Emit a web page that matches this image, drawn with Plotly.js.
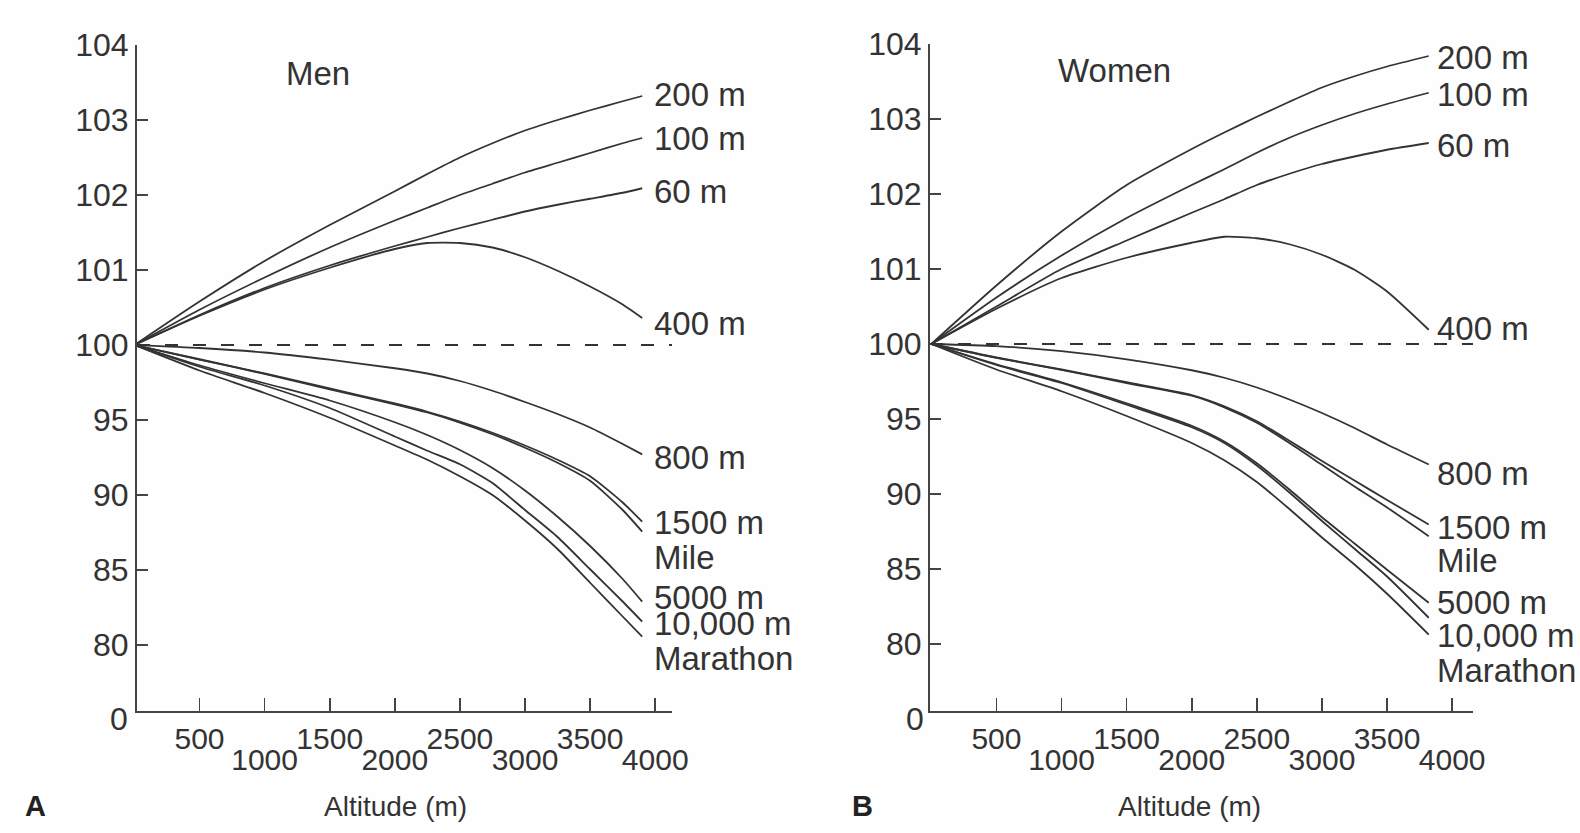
<!DOCTYPE html>
<html><head><meta charset="utf-8">
<script src="https://cdn.plot.ly/plotly-3.0.1.min.js"></script>
<style>html,body{margin:0;padding:0;background:#fefefe;} #chart{width:1580px;height:833px;}</style>
</head><body><div id="chart"></div>
<script>
// ---------- DATA ----------
const events = ['200 m', '100 m', '60 m', '400 m', '800 m', '1500 m', 'Mile', '5000 m', '10,000 m', 'Marathon'];
const xTickVals = [500, 1000, 1500, 2000, 2500, 3000, 3500, 4000];
const yTickVals = [104, 103, 102, 101, 100, 95, 90, 85, 80];

// Men (panel A): altitude (m) and performance (% of sea level)
const altitudeMen = [0, 500, 1000, 1500, 2000, 2250, 2500, 2750, 3000, 3250, 3500, 3750, 3900];
const men200m   = [100, 100.58, 101.12, 101.60, 102.05, 102.28, 102.50, 102.69, 102.86, 103.00, 103.13, 103.25, 103.32];
const men100m   = [100, 100.47, 100.90, 101.30, 101.66, 101.83, 102.00, 102.15, 102.30, 102.43, 102.56, 102.69, 102.76];
const men60m    = [100, 100.40, 100.76, 101.06, 101.32, 101.44, 101.56, 101.67, 101.78, 101.87, 101.95, 102.03, 102.09];
const men400m   = [100, 100.39, 100.74, 101.03, 101.28, 101.36, 101.36, 101.30, 101.17, 100.99, 100.78, 100.54, 100.36];
const men800m   = [100, 99.80, 99.50, 99.02, 98.45, 98.10, 97.60, 96.95, 96.20, 95.40, 94.50, 93.40, 92.71];
const men1500m  = [100, 99.05, 98.10, 97.10, 96.10, 95.55, 94.90, 94.15, 93.30, 92.35, 91.25, 89.50, 88.22];
const menMile   = [100, 99.03, 98.07, 97.05, 96.05, 95.50, 94.83, 94.05, 93.15, 92.15, 90.95, 89.00, 87.56];
const men5000m  = [100, 98.65, 97.45, 96.30, 94.85, 94.00, 93.00, 91.80, 90.30, 88.55, 86.60, 84.40, 82.89];
const men10000m = [100, 98.55, 97.30, 95.80, 93.90, 92.95, 92.05, 90.80, 89.00, 87.20, 85.05, 82.90, 81.56];
const menMarathon = [100, 98.30, 96.80, 95.15, 93.30, 92.35, 91.25, 90.00, 88.30, 86.40, 84.15, 81.90, 80.56];

// Women (panel B)
const altitudeWomen = [0, 500, 1000, 1500, 2000, 2250, 2500, 2750, 3000, 3250, 3500, 3820];
const women200m   = [100, 100.78, 101.50, 102.12, 102.60, 102.82, 103.03, 103.23, 103.42, 103.57, 103.70, 103.84];
const women100m   = [100, 100.62, 101.18, 101.68, 102.12, 102.33, 102.55, 102.75, 102.92, 103.07, 103.20, 103.35];
const women60m    = [100, 100.50, 101.00, 101.38, 101.75, 101.93, 102.12, 102.27, 102.40, 102.50, 102.59, 102.68];
const women400m   = [100, 100.47, 100.88, 101.15, 101.35, 101.43, 101.41, 101.33, 101.19, 100.99, 100.70, 100.19];
const women800m   = [100, 99.86, 99.52, 98.98, 98.25, 97.75, 97.10, 96.30, 95.40, 94.40, 93.30, 91.97];
const women1500m  = [100, 99.10, 98.30, 97.45, 96.60, 95.85, 94.85, 93.55, 92.20, 90.90, 89.60, 87.97];
const womenMile   = [100, 99.08, 98.27, 97.40, 96.55, 95.78, 94.75, 93.40, 91.95, 90.50, 89.10, 87.19];
const women5000m  = [100, 98.65, 97.45, 96.05, 94.55, 93.50, 92.05, 90.30, 88.45, 86.70, 84.95, 82.75];
const women10000m = [100, 98.60, 97.40, 95.95, 94.45, 93.40, 91.90, 90.10, 88.20, 86.35, 84.50, 81.75];
const womenMarathon = [100, 98.30, 96.85, 95.20, 93.40, 92.25, 90.80, 89.00, 87.10, 85.30, 83.35, 80.63];

// ---------- CONFIG (positions / styles) ----------
const W = 1580, H = 833;
const labelYA = [95, 138, 192, 323, 457, 522, 557, 597, 623, 658];
const labelYB = [57, 95, 145, 328, 473, 527, 560, 602, 635, 670];
const FONT = '"Liberation Sans", Arial, Helvetica, sans-serif';
const INK = '#333333';

// broken y scale: 1 unit per % above 100, 1 unit per 5 % below 100
const mapY = v => v >= 100 ? v - 100 : (v - 100) / 5;

const menSeries = [men200m, men100m, men60m, men400m, men800m, men1500m, menMile, men5000m, men10000m, menMarathon];
const womenSeries = [women200m, women100m, women60m, women400m, women800m, women1500m, womenMile, women5000m, women10000m, womenMarathon];

const traces = [];
function addPanel(alt, series, xa, ya) {
  series.forEach((vals, i) => {
    traces.push({
      type: 'scatter', mode: 'lines', name: events[i],
      x: alt, y: vals.map(mapY), xaxis: xa, yaxis: ya,
      line: {color: '#333333', width: 1.8, shape: 'spline', smoothing: 0.6},
      showlegend: false, hoverinfo: 'skip'
    });
  });
}
addPanel(altitudeMen, menSeries, 'x', 'y');
addPanel(altitudeWomen, womenSeries, 'x2', 'y2');
// empty traces so the second-row label axes exist
traces.push({type: 'scatter', x: [], y: [], xaxis: 'x3', yaxis: 'y', showlegend: false});
traces.push({type: 'scatter', x: [], y: [], xaxis: 'x4', yaxis: 'y2', showlegend: false});

const row1Text = xTickVals.map(v => (v / 500) % 2 === 1 ? String(v) : '');
const row2Vals = xTickVals.filter(v => (v / 500) % 2 === 0);

function xAxis(domainPx, range, anchor) {
  return {
    domain: [domainPx[0] / W, domainPx[1] / W], range: range, anchor: anchor,
    tickmode: 'array', tickvals: xTickVals, ticktext: row1Text,
    ticks: 'inside', ticklen: 13, tickwidth: 1.6, tickcolor: '#444',
    showline: true, linecolor: '#444', linewidth: 2,
    showgrid: false, zeroline: false,
    tickfont: {family: FONT, size: 30, color: INK},
    ticklabelstandoff: 0, fixedrange: true
  };
}
function xAxisRow2(over, range, anchor) {
  return {
    overlaying: over, range: range, anchor: anchor,
    tickmode: 'array', tickvals: row2Vals, ticktext: row2Vals.map(String),
    ticks: '', showline: false, showgrid: false, zeroline: false,
    tickfont: {family: FONT, size: 30, color: INK},
    ticklabelstandoff: 28, fixedrange: true
  };
}
function yAxis(domainPx, anchor) {
  const top = 4, pxPerUnit = (345 - 45) / 4;
  const bottom = top - (domainPx[1] - domainPx[0]) / pxPerUnit;
  return {
    domain: [1 - domainPx[1] / H, 1 - domainPx[0] / H], range: [bottom, top], anchor: anchor,
    tickmode: 'array', tickvals: yTickVals.map(mapY), ticktext: yTickVals.map(String),
    ticks: 'inside', ticklen: 11, tickwidth: 1.6, tickcolor: '#444',
    showline: true, linecolor: '#444', linewidth: 2,
    showgrid: false, zeroline: false,
    tickfont: {family: FONT, size: 32, color: INK},
    ticklabelstandoff: 0, fixedrange: true
  };
}

const rangeA = [20, 4129], rangeB = [-10, 4160];
const annotations = [];
function txt(text, xpx, ypx, size, anchor, bold) {
  annotations.push({
    xref: 'paper', yref: 'paper', x: xpx / W, y: 1 - ypx / H,
    xanchor: anchor || 'center', yanchor: 'middle', showarrow: false,
    text: bold ? '<b>' + text + '</b>' : text,
    font: {family: FONT, size: size, color: bold ? '#222' : INK}
  });
}
events.forEach((e, i) => { txt(e, 652, labelYA[i], 33, 'left'); });
events.forEach((e, i) => { txt(e, 1435, labelYB[i], 33, 'left'); });
txt('Men', 318, 73, 33);
txt('Women', 1114, 70, 33);
txt('0', 119, 719, 32);
txt('0', 915, 719, 32);
txt('Altitude (m)', 395, 806, 28);
txt('Altitude (m)', 1189, 806, 28);
txt('A', 35, 806, 29, 'center', true);
txt('B', 862, 806, 29, 'center', true);

const dashLine = (xr, yr) => ({
  type: 'line', xref: xr + ' domain', yref: yr, x0: 0, x1: 1, y0: mapY(100), y1: mapY(100),
  line: {color: '#333333', width: 2.2, dash: '13px,15px'}
});

const layout = {
  width: W, height: H, margin: {l: 0, r: 0, t: 0, b: 0},
  paper_bgcolor: '#fefefe', plot_bgcolor: 'rgba(0,0,0,0)',
  showlegend: false,
  xaxis: xAxis([137, 672], rangeA, 'y'),
  yaxis: yAxis([45, 711], 'x'),
  xaxis2: xAxis([930, 1473], rangeB, 'y2'),
  yaxis2: yAxis([44, 711], 'x2'),
  xaxis3: xAxisRow2('x', rangeA, 'y'),
  xaxis4: xAxisRow2('x2', rangeB, 'y2'),
  shapes: [dashLine('x', 'y'), dashLine('x2', 'y2')],
  annotations: annotations
};

Plotly.newPlot('chart', traces, layout, {staticPlot: true, displayModeBar: false});
</script>
</body></html>
